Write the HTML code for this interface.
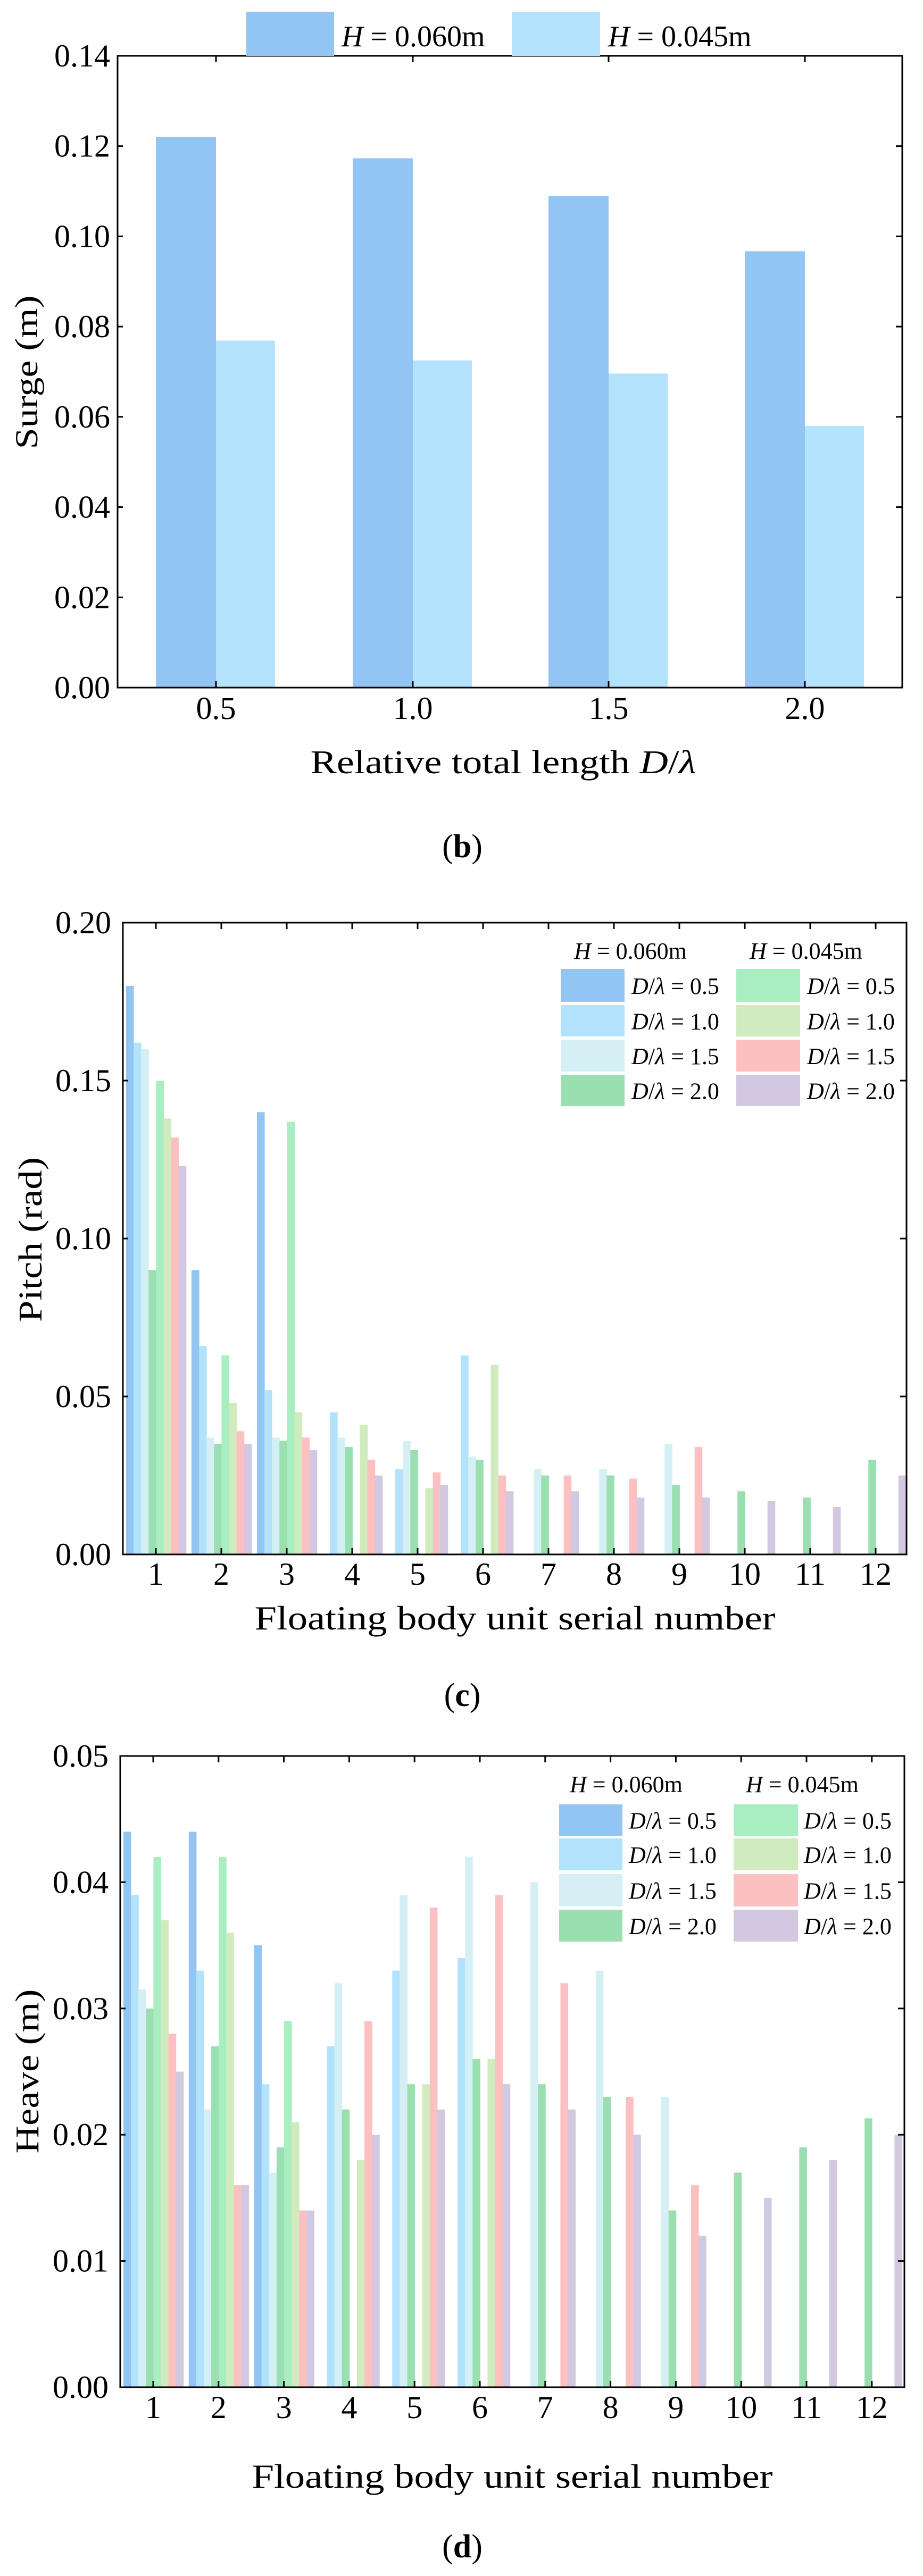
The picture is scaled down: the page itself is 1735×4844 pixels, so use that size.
<!DOCTYPE html>
<html><head><meta charset="utf-8"><style>html,body{margin:0;padding:0;background:#fff}svg{display:block}text{font-family:"Liberation Serif",serif;fill:#000}</style></head>
<body>
<svg id="s" xmlns="http://www.w3.org/2000/svg" width="1735" height="4844" viewBox="0 0 1735 4844"></svg>
<script>
const S=document.getElementById('s');let h='';
const C=['#93c5f2','#b3e2fd','#d4f0f4','#9adfb0','#a8eec0','#d0ebbe','#fdc0c0','#d2c8e2'];
function rect(x,y,w,hh,f){h+=`<rect x="${x}" y="${y}" width="${w}" height="${hh}" fill="${f}"/>`;}
function txt(x,y,s,size,anchor,extra){h+=`<text x="${x}" y="${y}" font-size="${size}" text-anchor="${anchor||'start'}" ${extra||''}>${s}</text>`;}
function frame(L,R,T,B,xt,yt,ymax,ylabs){
  // ticks
  xt.forEach(x=>{h+=`<line x1="${x}" y1="${B}" x2="${x}" y2="${B-12}" stroke="#000" stroke-width="3"/><line x1="${x}" y1="${T}" x2="${x}" y2="${T+12}" stroke="#000" stroke-width="3"/>`;});
  ylabs.forEach((v,i)=>{const y=B-(B-T)*v/ymax;h+=`<line x1="${R}" y1="${y}" x2="${R-12}" y2="${y}" stroke="#000" stroke-width="3"/><line x1="${L}" y1="${y}" x2="${L+10}" y2="${y}" stroke="#000" stroke-width="3"/>`;});
  h+=`<rect x="${L}" y="${T}" width="${R-L}" height="${B-T}" fill="none" stroke="#000" stroke-width="3"/>`;
}
// ---------- (b) Surge
(function(){
 const L=221,R=1696,T=105,B=1293,ymax=0.14;
 const Y=v=>B-(B-T)*v/ymax;
 const xt=[406,776,1144,1513];
 const d1=[0.122,0.1173,0.1089,0.0967],d2=[0.0769,0.0725,0.0696,0.0580];
 xt.forEach((x,i)=>{rect(x-113,Y(d1[i]),113,B-Y(d1[i]),C[0]);rect(x,Y(d2[i]),111,B-Y(d2[i]),C[1]);});
 frame(L,R,T,B,xt,[0,0.02,0.04,0.06,0.08,0.1,0.12,0.14],ymax,[0,0.02,0.04,0.06,0.08,0.1,0.12,0.14]);
 [0,0.02,0.04,0.06,0.08,0.1,0.12,0.14].forEach(v=>txt(207,Y(v)+20,v.toFixed(2),60,'end'));
 ['0.5','1.0','1.5','2.0'].forEach((s,i)=>txt(xt[i],1352,s,60,'middle'));
 rect(463,22,165,83,C[0]);rect(962,22,166,83,C[1]);
 txt(642,87,'<tspan font-style="italic">H</tspan> = 0.060m',56);
 txt(1143,87,'<tspan font-style="italic">H</tspan> = 0.045m',56);
 txt(0,0,'Surge (m)',60,'middle',`transform="translate(70,700) rotate(-90)" textLength="289" lengthAdjust="spacingAndGlyphs"`);
 txt(946,1454,'Relative total length <tspan font-style="italic">D</tspan>/<tspan font-style="italic">λ</tspan>',62,'middle',`textLength="725" lengthAdjust="spacingAndGlyphs"`);
 txt(869,1612,'(<tspan font-weight="bold">b</tspan>)',62,'middle');
})();
function grouped(o){
 const {L,R,T,B,ymax,x1,sp,data,yt,dec,title,ylab,ylabY,ylabX,xlabY,capY,cap,leg}=o;
 const Y=v=>B-(B-T)*v/ymax;
 const xt=[];for(let i=0;i<12;i++)xt.push(x1+i*sp);
 const bw=14.1;
 data.forEach((g,i)=>{const st=xt[i]-56;g.forEach((v,j)=>{if(v>0)rect(st+j*bw,Y(v),bw+0.5,B-Y(v),C[j]);});});
 frame(L,R,T,B,xt,yt,ymax,yt);
 yt.forEach(v=>txt(L-22,Y(v)+20,v.toFixed(dec),60,'end'));
 xt.forEach((x,i)=>txt(x,o.xnumY,String(i+1),60,'middle'));
 txt(0,0,ylab,62,'middle',`transform="translate(${ylabX},${ylabY}) rotate(-90)" textLength="${o.ylabLen}" lengthAdjust="spacingAndGlyphs"`);
 txt(o.xlabX,xlabY,'Floating body unit serial number',64,'middle',`textLength="979" lengthAdjust="spacingAndGlyphs"`);
 txt(869,capY,'(<tspan font-weight="bold">'+cap+'</tspan>)',62,'middle');
 // legend
 txt(leg.hx1,leg.hy,'<tspan font-style="italic">H</tspan> = 0.060m',44);
 txt(leg.hx2,leg.hy,'<tspan font-style="italic">H</tspan> = 0.045m',44);
 const labs=['0.5','1.0','1.5','2.0'];
 leg.rows.forEach((r,k)=>{
   rect(leg.c1,r[0],leg.w1,r[1]-r[0],C[k]);rect(leg.c2,r[0],leg.w2,r[1]-r[0],C[4+k]);
   const by=(r[0]+r[1])/2+16;
   txt(leg.t1,by,'<tspan font-style="italic">D</tspan>/<tspan font-style="italic">λ</tspan> = '+labs[k],44);
   txt(leg.t2,by,'<tspan font-style="italic">D</tspan>/<tspan font-style="italic">λ</tspan> = '+labs[k],44);
 });
}
// ---------- (c) Pitch
grouped({L:231,R:1704,T:1735,B:2923,ymax:0.2,x1:293,sp:123.0,dec:2,yt:[0,0.05,0.1,0.15,0.2],
 data:[[0.18,0.162,0.16,0.09,0.15,0.138,0.132,0.123],
 [0.09,0.066,0.037,0.035,0.063,0.048,0.039,0.035],
 [0.14,0.052,0.037,0.036,0.137,0.045,0.037,0.033],
 [0,0.045,0.037,0.034,0,0.041,0.030,0.025],
 [0,0.027,0.036,0.033,0,0.021,0.026,0.022],
 [0,0.063,0.031,0.030,0,0.060,0.025,0.020],
 [0,0,0.027,0.025,0,0,0.025,0.020],
 [0,0,0.027,0.025,0,0,0.024,0.018],
 [0,0,0.035,0.022,0,0,0.034,0.018],
 [0,0,0,0.020,0,0,0,0.017],
 [0,0,0,0.018,0,0,0,0.015],
 [0,0,0,0.030,0,0,0,0.025]],
 ylab:'Pitch (rad)',ylabX:78,ylabY:2331,ylabLen:310,xnumY:2980,xlabX:968,xlabY:3064,capY:3208,cap:'c',
 leg:{hx1:1079,hx2:1409,hy:1803,c1:1054,w1:120,c2:1384,w2:120,t1:1187,t2:1517,
  rows:[[1822,1884],[1890,1949],[1955,2015],[2021,2080]]}});
// ---------- (d) Heave
grouped({L:226,R:1700,T:3302,B:4489,ymax:0.05,x1:288,sp:122.8,dec:2,yt:[0,0.01,0.02,0.03,0.04,0.05],
 data:[[0.044,0.039,0.0315,0.030,0.042,0.037,0.028,0.025],
 [0.044,0.033,0.022,0.027,0.042,0.036,0.016,0.016],
 [0.035,0.024,0.017,0.019,0.029,0.021,0.014,0.014],
 [0,0.027,0.032,0.022,0,0.018,0.029,0.020],
 [0,0.033,0.039,0.024,0,0.024,0.038,0.022],
 [0,0.034,0.042,0.026,0,0.026,0.039,0.024],
 [0,0,0.040,0.024,0,0,0.032,0.022],
 [0,0,0.033,0.023,0,0,0.023,0.020],
 [0,0,0.023,0.014,0,0,0.016,0.012],
 [0,0,0,0.017,0,0,0,0.015],
 [0,0,0,0.019,0,0,0,0.018],
 [0,0,0,0.0213,0,0,0,0.020]],
 ylab:'Heave (m)',ylabX:72,ylabY:3895,ylabLen:309,xnumY:4547,xlabX:963,xlabY:4678,capY:4809,cap:'d',
 leg:{hx1:1071,hx2:1402,hy:3370,c1:1051,w1:119,c2:1379,w2:121,t1:1182,t2:1511,
  rows:[[3393,3452],[3457,3517],[3524,3585],[3591,3651]]}});
S.innerHTML=h;
</script>
</body></html>
